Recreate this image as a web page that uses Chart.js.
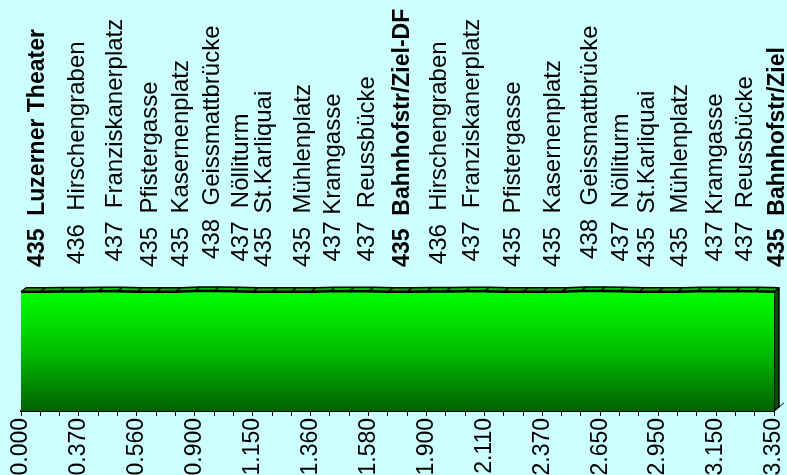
<!DOCTYPE html>
<html>
<head>
<meta charset="utf-8">
<script src="https://cdn.jsdelivr.net/npm/chart.js@4.4.1/dist/chart.umd.min.js"></script>
<style>
  html, body { margin: 0; padding: 0; background: #ccffff; }
  #wrap { width: 787px; height: 475px; position: relative; }
</style>
</head>
<body>
<div id="wrap"><canvas id="profil"></canvas></div>
<script>
// distance labels on every third category (km)
const distTicks = ['0.000', '0.370', '0.560', '0.900', '1.150', '1.360', '1.580',
                   '1.900', '2.110', '2.370', '2.650', '2.950', '3.150', '3.350'];

// elevation per category (m), 40 points
const elevation = [435, 435, 436, 436, 437, 437, 435, 435, 435, 438,
                   438, 437, 435, 435, 435, 435, 437, 437, 437, 435,
                   435, 436, 436, 437, 437, 435, 435, 435, 435, 438,
                   438, 437, 435, 435, 435, 437, 437, 437, 437, 435];

// stops along the route
const stopNames = ['Luzerner Theater', 'Hirschengraben', 'Franziskanerplatz', 'Pfistergasse',
                   'Kasernenplatz', 'Geissmattbrücke', 'Nölliturm', 'St.Karliquai',
                   'Mühlenplatz', 'Kramgasse', 'Reussbücke', 'Bahnhofstr/Ziel-DF',
                   'Hirschengraben', 'Franziskanerplatz', 'Pfistergasse', 'Kasernenplatz',
                   'Geissmattbrücke', 'Nölliturm', 'St.Karliquai', 'Mühlenplatz',
                   'Kramgasse', 'Reussbücke', 'Bahnhofstr/Ziel'];
const stopElev = [435, 436, 437, 435, 435, 438, 437, 435, 435, 437, 437, 435,
                  436, 437, 435, 435, 438, 437, 435, 435, 437, 437, 435];
// position of each stop in category units
const stopPos = [0.85, 2.9, 4.87, 6.68, 8.29, 9.89, 11.39, 12.58, 14.6, 16.2, 17.92, 19.78,
                 21.65, 23.36, 25.48, 27.55, 29.47, 31.12, 32.42, 34.13, 35.94, 37.54, 39.2];
const boldStops = [0, 11, 22];

const FONT = "'Liberation Sans', Arial, sans-serif";
const depth = { dx: 5, dy: -4 };

const pseudo3d = {
  id: 'pseudo3d',
  beforeDatasetsDraw(chart) {
    const ctx = chart.ctx;
    const pts = chart.getDatasetMeta(0).data;
    const bottom = chart.chartArea.bottom;
    const { dx, dy } = depth;
    ctx.save();
    ctx.strokeStyle = '#000';
    ctx.lineJoin = 'round';
    // right side wall
    const last = pts[pts.length - 1];
    ctx.beginPath();
    ctx.moveTo(last.x, last.y);
    ctx.lineTo(last.x + dx, last.y + dy);
    ctx.lineTo(last.x + dx, bottom + dy);
    ctx.lineTo(last.x, bottom);
    ctx.closePath();
    ctx.fillStyle = '#005200';
    ctx.fill();
    ctx.lineWidth = 1.5;
    ctx.stroke();
    // floor edge
    ctx.beginPath();
    ctx.moveTo(last.x, bottom);
    ctx.lineTo(last.x + dx * 2, bottom + dy * 2);
    ctx.lineWidth = 1;
    ctx.stroke();
    // top face: green segments, black seams between categories
    for (let i = 0; i < pts.length - 1; i++) {
      const a = pts[i], b = pts[i + 1];
      ctx.beginPath();
      ctx.moveTo(a.x, a.y);
      ctx.lineTo(b.x, b.y);
      ctx.lineTo(b.x + dx, b.y + dy);
      ctx.lineTo(a.x + dx, a.y + dy);
      ctx.closePath();
      ctx.fillStyle = '#00b400';
      ctx.fill();
    }
    ctx.lineWidth = 1.2;
    pts.forEach(p => {
      ctx.beginPath();
      ctx.moveTo(p.x, p.y);
      ctx.lineTo(p.x + dx, p.y + dy);
      ctx.stroke();
    });
    ctx.beginPath();
    pts.forEach((p, i) => i ? ctx.lineTo(p.x + dx, p.y + dy) : ctx.moveTo(p.x + dx, p.y + dy));
    ctx.lineWidth = 1.5;
    ctx.stroke();
    ctx.restore();
  }
};

const stopLabels = {
  id: 'stopLabels',
  afterDatasetsDraw(chart) {
    const ctx = chart.ctx;
    const xs = chart.scales.x, ys = chart.scales.lab;
    ctx.save();
    ctx.fillStyle = '#000';
    ctx.textAlign = 'left';
    ctx.textBaseline = 'middle';
    stopNames.forEach((name, i) => {
      const x = xs.getPixelForValue(stopPos[i]);
      const y = ys.getPixelForValue(stopElev[i]);
      const bold = boldStops.includes(i);
      const gap = name === 'Kramgasse' ? ' ' : '  ';
      ctx.save();
      ctx.translate(x, y);
      ctx.rotate(-Math.PI / 2);
      ctx.font = (bold ? 'bold 23px ' : '24px ') + FONT;
      ctx.fillText(stopElev[i] + gap + name, 0, 0);
      ctx.restore();
    });
    ctx.restore();
  }
};

const canvas = document.getElementById('profil');
new Chart(canvas, {
  type: 'line',
  data: {
    datasets: [{
      data: elevation.map((v, i) => ({ x: i, y: v })),
      fill: 'origin',
      borderColor: '#000',
      borderWidth: 2.5,
      pointRadius: 0,
      tension: 0,
      backgroundColor(context) {
        const area = context.chart.chartArea;
        if (!area) return '#00c000';
        const top = context.chart.scales.y.getPixelForValue(438);
        const g = context.chart.ctx.createLinearGradient(0, top, 0, area.bottom);
        g.addColorStop(0, '#00ff00');
        g.addColorStop(0.5, '#00c000');
        g.addColorStop(1, '#006200');
        return g;
      }
    }]
  },
  options: {
    responsive: true,
    maintainAspectRatio: false,
    animation: false,
    devicePixelRatio: 1,
    layout: { padding: { left: 21, right: 13, top: 0, bottom: 0 } },
    plugins: { legend: { display: false }, tooltip: { enabled: false } },
    scales: {
      x: {
        type: 'linear',
        min: 0,
        max: elevation.length - 1,
        border: { display: true, color: '#000', width: 2 },
        grid: { drawOnChartArea: false, drawTicks: true, tickLength: 5, color: '#000', lineWidth: 1 },
        afterBuildTicks(scale) {
          scale.ticks = elevation.map((_, i) => ({ value: i }));
        },
        afterFit(scale) {
          scale.height = 64;
          scale.paddingLeft = 0;
          scale.paddingRight = 0;
        },
        ticks: {
          autoSkip: false,
          maxRotation: 90,
          minRotation: 90,
          padding: 2,
          color: '#000',
          font: { family: FONT, size: 23 },
          callback(v) { return v % 3 === 0 ? distTicks[v / 3] : ''; }
        }
      },
      y: { display: false, min: 0, max: 1500 },
      lab: { axis: 'y', position: 'right', display: false, min: 381, max: 535 }
    }
  },
  plugins: [pseudo3d, stopLabels]
});
</script>
</body>
</html>
